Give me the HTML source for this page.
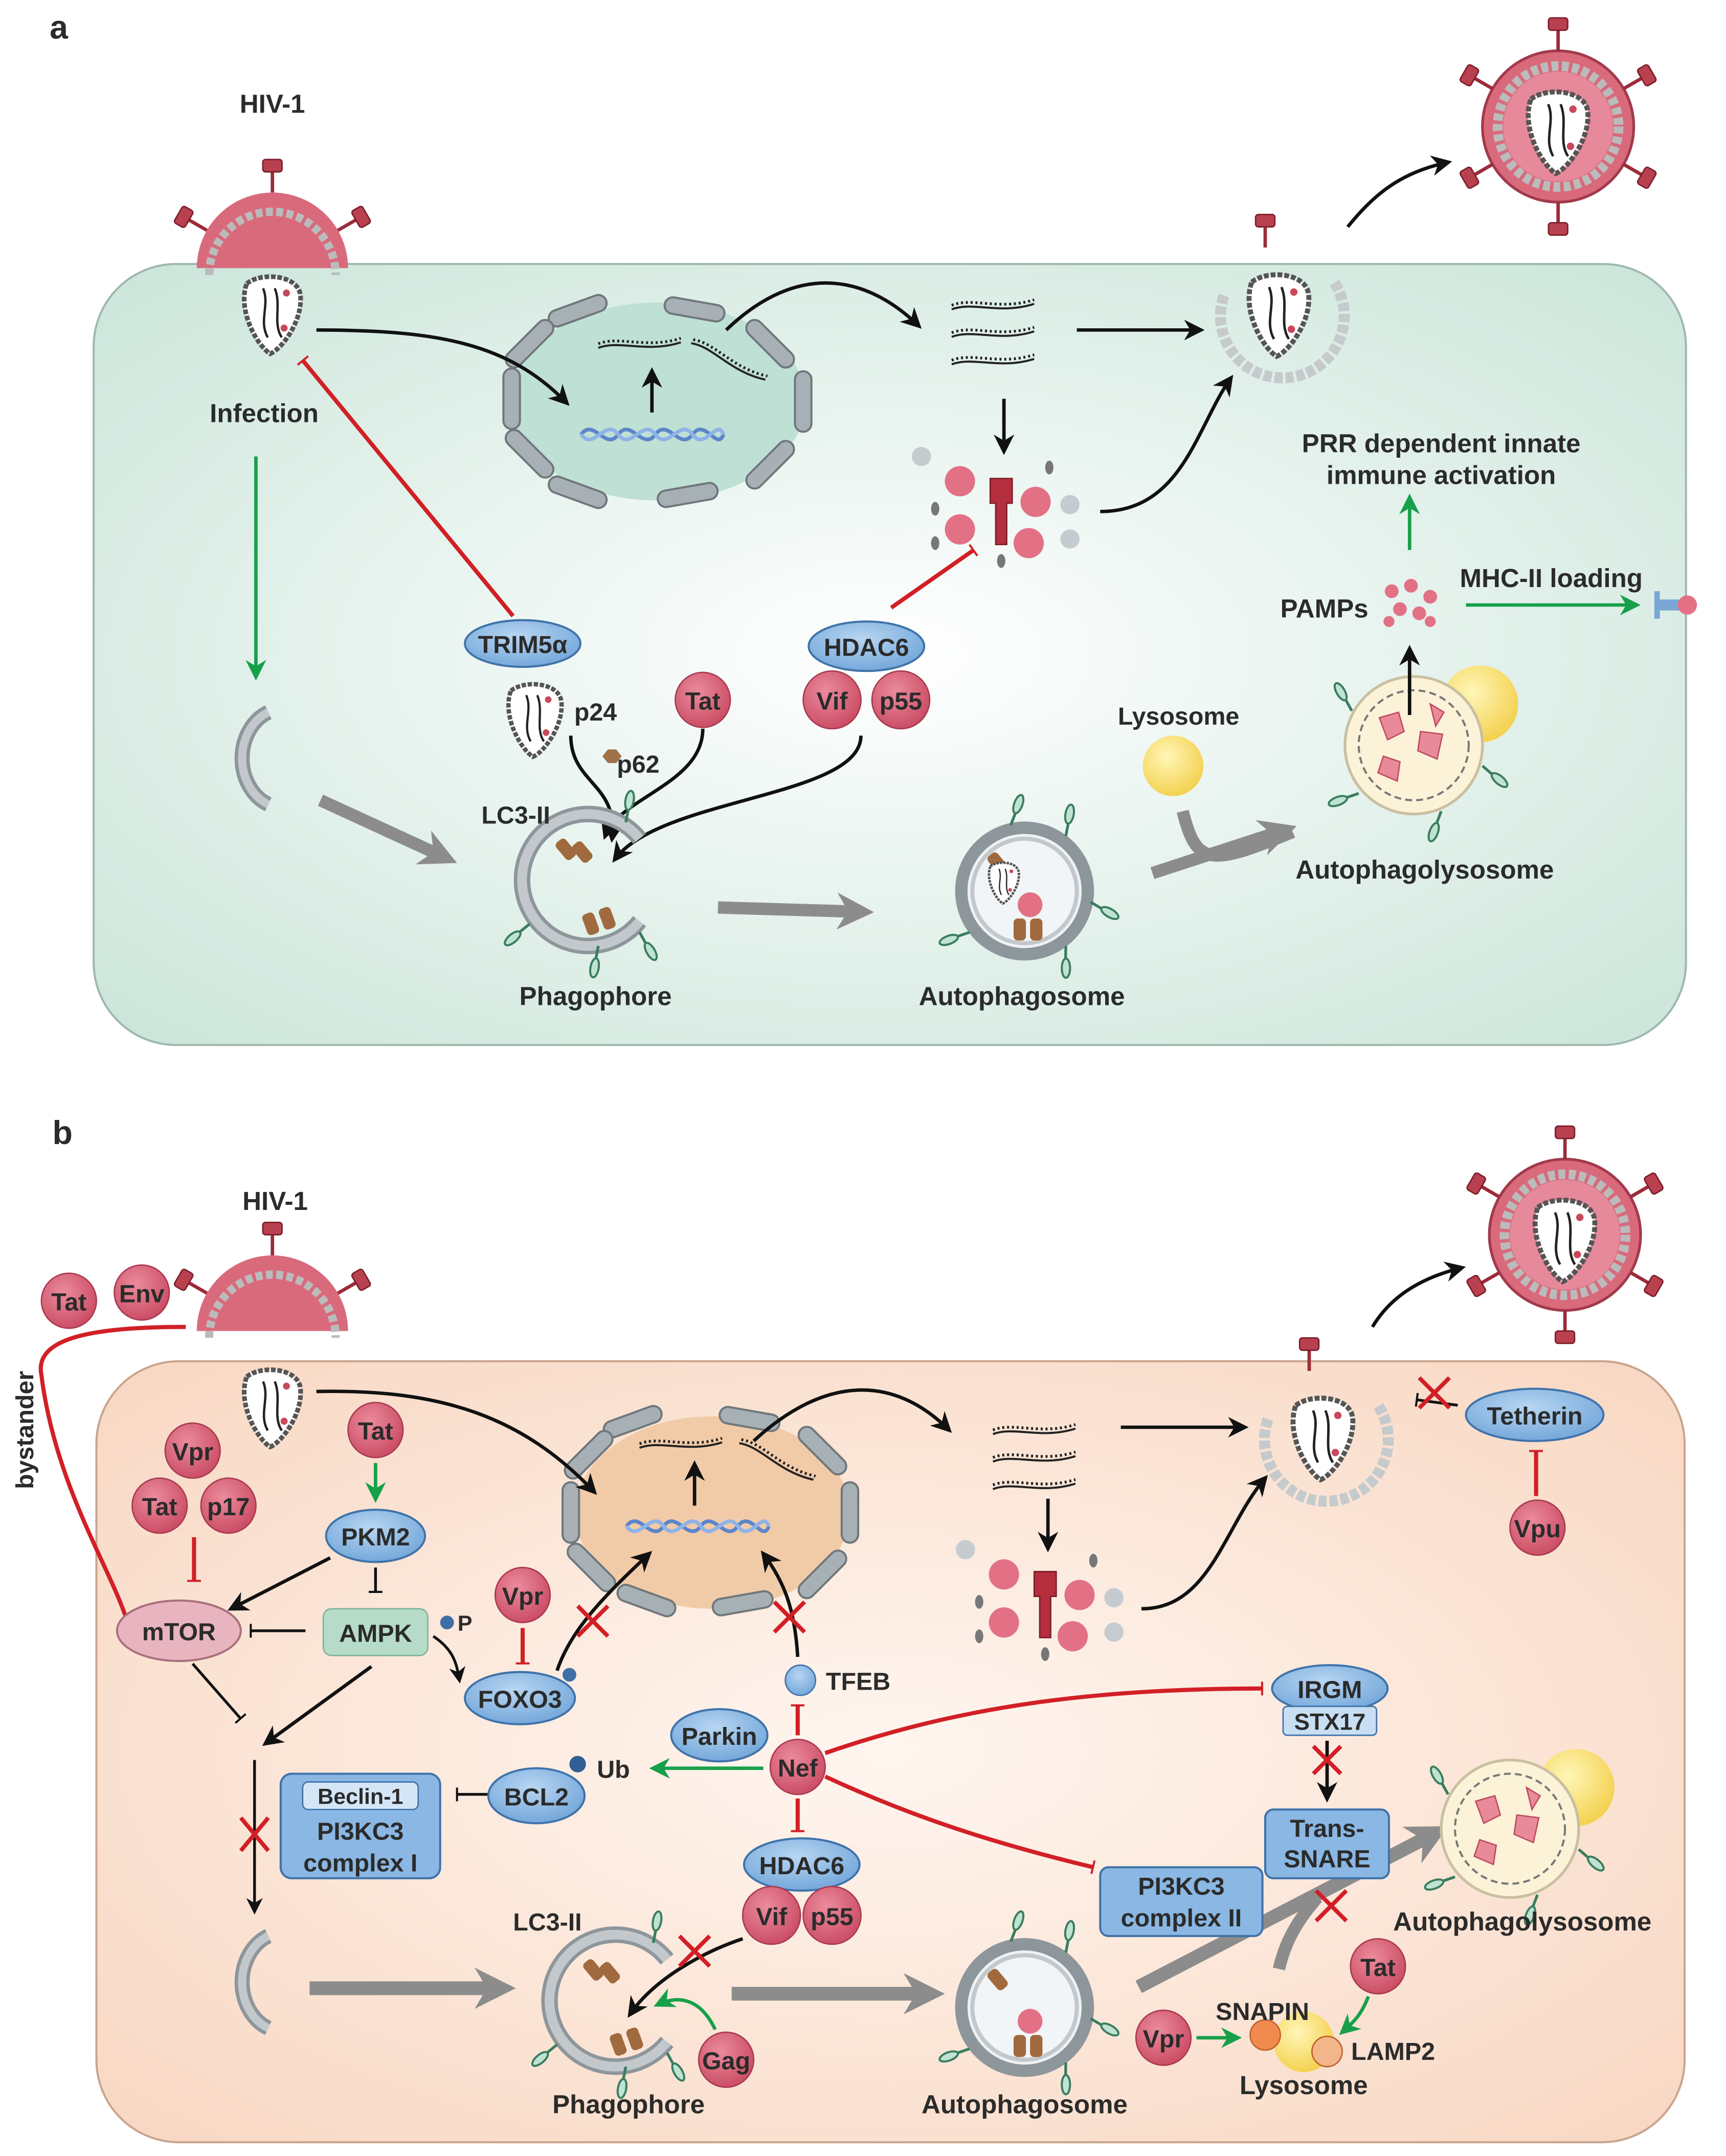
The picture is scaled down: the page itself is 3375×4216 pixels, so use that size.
<!DOCTYPE html>
<html><head><meta charset="utf-8"><style>
html,body{margin:0;padding:0;background:#fff}
svg{display:block}
text{font-family:"Liberation Sans",Arial,sans-serif;font-weight:bold;fill:#2b2b2b}
</style></head><body>
<svg width="3375" height="4216" viewBox="0 0 1255 1568" xmlns="http://www.w3.org/2000/svg">
<defs>
<radialGradient id="ga" cx="0.5" cy="0.5" r="0.7"><stop offset="0" stop-color="#ffffff"/><stop offset="1" stop-color="#cbe5da"/></radialGradient>
<radialGradient id="gb" cx="0.5" cy="0.5" r="0.7"><stop offset="0" stop-color="#fff6f0"/><stop offset="1" stop-color="#f8d7c2"/></radialGradient>
<radialGradient id="pk" cx="0.4" cy="0.35" r="0.7"><stop offset="0" stop-color="#eb8b9c"/><stop offset="1" stop-color="#c94a62"/></radialGradient>
<radialGradient id="bl" cx="0.45" cy="0.35" r="0.7"><stop offset="0" stop-color="#b8d6f2"/><stop offset="1" stop-color="#6fa4d8"/></radialGradient>
<radialGradient id="yl" cx="0.4" cy="0.35" r="0.7"><stop offset="0" stop-color="#fff6b8"/><stop offset="1" stop-color="#f3cf4a"/></radialGradient>
<marker id="ak" viewBox="0 0 10 10" refX="8" refY="5" markerWidth="6" markerHeight="6" orient="auto"><path d="M0,0L10,5L0,10L3,5z" fill="#111"/></marker>
<marker id="ag" viewBox="0 0 10 10" refX="8" refY="5" markerWidth="6" markerHeight="6" orient="auto"><path d="M0,0L10,5L0,10L3,5z" fill="#16a04a"/></marker>
<marker id="agr" viewBox="0 0 10 10" refX="5" refY="5" markerWidth="3" markerHeight="3" orient="auto"><path d="M0,0L10,5L0,10L3,5z" fill="#8c8c8c"/></marker>
<marker id="br" viewBox="0 0 4 20" refX="2" refY="10" markerWidth="4" markerHeight="10" orient="auto" markerUnits="userSpaceOnUse"><rect x="0" y="0" width="3" height="20" fill="#d21f26"/></marker>
<marker id="bk" viewBox="0 0 4 20" refX="2" refY="10" markerWidth="3" markerHeight="10" orient="auto" markerUnits="userSpaceOnUse"><rect x="0" y="0" width="3" height="20" fill="#111"/></marker>
<g id="capsid">
<path d="M-22,-22 C-10,-32 22,-30 24,-12 C26,10 8,34 -2,38 C-14,30 -30,0 -22,-22z" fill="#fff" stroke="#555" stroke-width="4" stroke-dasharray="4 1.5"/>
<path d="M-8,-18 C-2,-4 -12,10 -4,24" fill="none" stroke="#222" stroke-width="2"/>
<path d="M2,-18 C8,-4 0,12 8,24" fill="none" stroke="#222" stroke-width="2"/>
<circle cx="12" cy="-14" r="3" fill="#c9485c"/><circle cx="10" cy="16" r="3" fill="#c9485c"/>
</g>
<g id="spike"><line x1="0" y1="0" x2="0" y2="-16" stroke="#9c2b3a" stroke-width="2.5"/><rect x="-7" y="-24" width="14" height="9" rx="2" fill="#b8404f" stroke="#7a1e2a"/></g>
<g id="virion">
<circle r="55" fill="#d96a7c" stroke="#a23a4c" stroke-width="2"/>
<circle r="44" fill="none" stroke="#bbb" stroke-width="7" stroke-dasharray="5 2.5"/>
<circle r="40" fill="#e6899a"/>
<use href="#spike" transform="rotate(0) translate(0,-55)"/><use href="#spike" transform="rotate(60) translate(0,-55)"/><use href="#spike" transform="rotate(120) translate(0,-55)"/>
<use href="#spike" transform="rotate(180) translate(0,-55)"/><use href="#spike" transform="rotate(240) translate(0,-55)"/><use href="#spike" transform="rotate(300) translate(0,-55)"/>
<use href="#capsid" transform="scale(0.9)"/>
</g>
<g id="nucseg"><rect x="-22" y="-6" width="44" height="12" rx="6" fill="#a7b0b5" stroke="#6f777b" stroke-width="1.5"/></g>
<g id="dna"><path d="M-55,0 C-45,-14 -35,14 -25,0 C-15,-14 -5,14 5,0 C15,-14 25,14 35,0 C45,-14 55,14 60,0" fill="none" stroke="#5b86c9" stroke-width="3"/><path d="M-55,0 C-45,14 -35,-14 -25,0 C-15,14 -5,-14 5,0 C15,14 25,-14 35,0 C45,14 55,-14 60,0" fill="none" stroke="#8fb3e8" stroke-width="3"/></g>
<g id="rna"><path d="M-30,0 C-15,-6 5,4 30,-4" fill="none" stroke="#222" stroke-width="2" stroke-dasharray="1.5 2"/><path d="M-30,0 C-15,-6 5,4 30,-4" fill="none" stroke="#222" stroke-width="1.5" transform="translate(0,3)"/></g>
<g id="ribo">
<circle cx="-30" cy="-20" r="11" fill="#e37185"/><circle cx="25" cy="-5" r="11" fill="#e37185"/><circle cx="-30" cy="15" r="11" fill="#e37185"/><circle cx="20" cy="25" r="11" fill="#e37185"/>
<circle cx="-58" cy="-38" r="7" fill="#c6cbd0"/><circle cx="50" cy="-3" r="7" fill="#c6cbd0"/><circle cx="50" cy="22" r="7" fill="#c6cbd0"/>
<ellipse cx="-48" cy="0" rx="3" ry="5" fill="#777"/><ellipse cx="-48" cy="25" rx="3" ry="5" fill="#777"/><ellipse cx="35" cy="-30" rx="3" ry="5" fill="#777"/><ellipse cx="0" cy="38" rx="3" ry="5" fill="#777"/>
<path d="M-8,-22 h16 v18 h-4 v30 h-8 v-30 h-4z" fill="#b52e3e" stroke="#7c1c28"/>
</g>
<g id="lc3"><path d="M0,0 l6,-10" stroke="#3a7d5f" stroke-width="2"/><ellipse cx="8" cy="-14" rx="3" ry="7" fill="#bfe3d2" stroke="#3a7d5f" stroke-width="1.5" transform="rotate(30 8 -14)"/></g>
<g id="phago">
<path d="M40,-30 A48,48 0 1,0 40,30" fill="none" stroke="#8d969b" stroke-width="12"/>
<path d="M40,-30 A48,48 0 1,0 40,30" fill="none" stroke="#c2c8cc" stroke-width="7"/>
<rect x="-18" y="-30" width="9" height="16" rx="3" fill="#a06a3e" transform="rotate(-40 -14 -22)"/><rect x="-6" y="-28" width="9" height="16" rx="3" fill="#a06a3e" transform="rotate(-40 -2 -20)"/>
<rect x="0" y="24" width="9" height="16" rx="3" fill="#a06a3e" transform="rotate(-20 4 32)"/><rect x="12" y="20" width="9" height="16" rx="3" fill="#a06a3e" transform="rotate(-20 16 28)"/>
<use href="#lc3" transform="translate(-40,32) rotate(200)"/><use href="#lc3" transform="translate(10,48) rotate(160)"/><use href="#lc3" transform="translate(30,-42) rotate(-20)"/><use href="#lc3" transform="translate(40,38) rotate(120)"/>
</g>
<g id="autoph">
<circle r="46" fill="#eef2f4" stroke="#8d969b" stroke-width="9"/><circle r="38" fill="#f2f5f7" stroke="#c2c8cc" stroke-width="3"/>
<rect x="-24" y="-28" width="9" height="16" rx="3" fill="#a06a3e" transform="rotate(-40 -20 -20)"/><rect x="-8" y="20" width="9" height="16" rx="3" fill="#a06a3e"/><rect x="4" y="20" width="9" height="16" rx="3" fill="#a06a3e"/>
<circle cx="4" cy="10" r="9" fill="#e37185"/>
<use href="#lc3" transform="translate(-40,30) rotate(220)"/><use href="#lc3" transform="translate(30,40) rotate(150)"/><use href="#lc3" transform="translate(30,-40) rotate(-20)"/><use href="#lc3" transform="translate(48,8) rotate(90)"/><use href="#lc3" transform="translate(-10,-48) rotate(-10)"/>
</g>
<g id="apl">
<circle cx="48" cy="-30" r="28" fill="url(#yl)"/>
<circle r="50" fill="#fbf2d8" stroke="#c9c0a2" stroke-width="2"/>
<circle r="40" fill="none" stroke="#777" stroke-width="1.5" stroke-dasharray="5 3"/>
<path d="M-25,-20 l14,-4 l4,14 l-12,6z M5,-10 l16,2 l-4,18 l-14,-6z M-22,8 l12,4 l-2,14 l-14,-6z M12,-30 l10,6 l-6,10 z" fill="#e88a9a" stroke="#c04b60"/>
<use href="#lc3" transform="translate(-40,35) rotate(220)"/><use href="#lc3" transform="translate(20,48) rotate(170)"/><use href="#lc3" transform="translate(50,15) rotate(100)"/><use href="#lc3" transform="translate(-45,-25) rotate(-60)"/>
</g>
<g id="bud">
<path d="M-40,-10 A45,45 0 1,0 40,-20" fill="none" stroke="#c5cacc" stroke-width="8" stroke-dasharray="6 2"/>
<use href="#capsid" transform="scale(0.9)"/>
<use href="#spike" transform="translate(-10,-45)"/>
</g>
</defs>

<!-- PANEL A -->
<text x="36" y="28" font-size="24">a</text>
<rect x="68" y="192" width="1158" height="568" rx="60" fill="url(#ga)" stroke="#9fb8ac" stroke-width="1.5"/>
<text x="198" y="82" font-size="19" text-anchor="middle">HIV-1</text>
<g transform="translate(198,195)">
<path d="M-55,0 A55,55 0 0,1 55,0 Z" fill="#d96a7c"/>
<path d="M-46,5 A46,46 0 0,1 46,5" fill="none" stroke="#bbb" stroke-width="6" stroke-dasharray="5 2.5"/>
<use href="#spike" transform="rotate(-60) translate(0,-55)"/><use href="#spike" transform="rotate(0) translate(0,-55)"/><use href="#spike" transform="rotate(60) translate(0,-55)"/>
</g>
<use href="#capsid" transform="translate(198,225) scale(0.85)"/>
<text x="192" y="307" font-size="19" text-anchor="middle">Infection</text>
<ellipse cx="478" cy="292" rx="108" ry="72" fill="#bfe0d4"/>
<use href="#nucseg" transform="translate(420,226) rotate(-20)"/><use href="#nucseg" transform="translate(505,225) rotate(10)"/><use href="#nucseg" transform="translate(560,250) rotate(45)"/><use href="#nucseg" transform="translate(584,292) rotate(90)"/><use href="#nucseg" transform="translate(560,338) rotate(-45)"/><use href="#nucseg" transform="translate(500,360) rotate(-10)"/><use href="#nucseg" transform="translate(420,358) rotate(20)"/><use href="#nucseg" transform="translate(385,330) rotate(45)"/><use href="#nucseg" transform="translate(372,290) rotate(90)"/><use href="#nucseg" transform="translate(385,250) rotate(-45)"/>
<use href="#dna" transform="translate(472,316) scale(0.9)"/>
<use href="#rna" transform="translate(465,250)"/><use href="#rna" transform="translate(530,262) rotate(30)"/>
<line x1="474" y1="300" x2="474" y2="270" stroke="#111" stroke-width="2.5" marker-end="url(#ak)"/>
<path d="M230,240 C320,240 370,250 412,293" fill="none" stroke="#111" stroke-width="2.5" marker-end="url(#ak)"/>
<path d="M528,240 C580,190 630,200 668,237" fill="none" stroke="#111" stroke-width="2.5" marker-end="url(#ak)"/>
<use href="#rna" transform="translate(722,222)"/><use href="#rna" transform="translate(722,242)"/><use href="#rna" transform="translate(722,262)"/>
<line x1="783" y1="240" x2="873" y2="240" stroke="#111" stroke-width="2.5" marker-end="url(#ak)"/>
<line x1="730" y1="290" x2="730" y2="328" stroke="#111" stroke-width="2.5" marker-end="url(#ak)"/>
<use href="#ribo" transform="translate(728,370)"/>
<path d="M800,372 C860,372 870,310 895,275" fill="none" stroke="#111" stroke-width="2.5" marker-end="url(#ak)"/>
<use href="#bud" transform="translate(930,225)"/>
<path d="M980,165 C1000,140 1020,125 1053,118" fill="none" stroke="#111" stroke-width="2.5" marker-end="url(#ak)"/>
<use href="#virion" transform="translate(1133,92)"/>
<text x="1048" y="329" font-size="19" text-anchor="middle">PRR dependent innate</text>
<text x="1048" y="352" font-size="19" text-anchor="middle">immune activation</text>
<line x1="1025" y1="400" x2="1025" y2="362" stroke="#16a04a" stroke-width="2.5" marker-end="url(#ag)"/>
<g fill="#e37185"><circle cx="1012" cy="430" r="5"/><circle cx="1026" cy="426" r="5"/><circle cx="1040" cy="434" r="5"/><circle cx="1018" cy="443" r="5"/><circle cx="1032" cy="446" r="5"/><circle cx="1010" cy="452" r="4"/><circle cx="1040" cy="452" r="4"/></g>
<text x="963" y="449" font-size="19" text-anchor="middle">PAMPs</text>
<text x="1128" y="427" font-size="19" text-anchor="middle">MHC-II loading</text>
<line x1="1066" y1="440" x2="1190" y2="440" stroke="#16a04a" stroke-width="2.5" marker-end="url(#ag)"/>
<g transform="translate(1215,440)"><rect x="-10" y="-4" width="24" height="8" fill="#7aa6d6"/><circle cx="12" cy="0" r="7" fill="#e37185"/><rect x="-12" y="-10" width="4" height="20" fill="#7aa6d6"/></g>
<ellipse cx="380" cy="468" rx="42" ry="17" fill="url(#bl)" stroke="#3f73aa" stroke-width="1.5"/><text x="380" y="475" font-size="18" text-anchor="middle">TRIM5α</text>
<line x1="373" y1="448" x2="220" y2="262" stroke="#d21f26" stroke-width="3" marker-end="url(#br)"/>
<use href="#capsid" transform="translate(389,520) scale(0.8)"/>
<text x="433" y="524" font-size="18" text-anchor="middle">p24</text>
<path d="M438,550 l4,-5 h6 l4,5 l-4,5 h-6z" fill="#a0724c"/><text x="464" y="562" font-size="18" text-anchor="middle">p62</text>
<circle cx="511" cy="509" r="20" fill="url(#pk)" stroke="#a83a50"/><text x="511" y="516" font-size="18" text-anchor="middle">Tat</text>
<ellipse cx="630" cy="470" rx="42" ry="18" fill="url(#bl)" stroke="#3f73aa" stroke-width="1.5"/><text x="630" y="477" font-size="18" text-anchor="middle">HDAC6</text>
<circle cx="605" cy="509" r="21" fill="url(#pk)" stroke="#a83a50"/><text x="605" y="516" font-size="18" text-anchor="middle">Vif</text>
<circle cx="655" cy="509" r="21" fill="url(#pk)" stroke="#a83a50"/><text x="655" y="516" font-size="18" text-anchor="middle">p55</text>
<line x1="648" y1="442" x2="708" y2="400" stroke="#d21f26" stroke-width="3" marker-end="url(#br)"/>
<path d="M415,535 C415,570 450,570 445,610" fill="none" stroke="#111" stroke-width="2.5" marker-end="url(#ak)"/>
<path d="M511,530 C511,570 450,580 440,608" fill="none" stroke="#111" stroke-width="2.5" marker-end="url(#ak)"/>
<path d="M626,535 C626,580 480,580 447,625" fill="none" stroke="#111" stroke-width="2.5" marker-end="url(#ak)"/>
<line x1="186" y1="332" x2="186" y2="492" stroke="#16a04a" stroke-width="2.5" marker-end="url(#ag)"/>
<path d="M195,518 A30,36 0 0,0 195,585" fill="none" stroke="#8d969b" stroke-width="11"/>
<path d="M195,518 A30,36 0 0,0 195,585" fill="none" stroke="#c2c8cc" stroke-width="6"/>
<line x1="233" y1="582" x2="320" y2="622" stroke="#8c8c8c" stroke-width="9" marker-end="url(#agr)"/>
<use href="#phago" transform="translate(425,640)"/>
<text x="375" y="599" font-size="18" text-anchor="middle">LC3-II</text>
<text x="433" y="731" font-size="19" text-anchor="middle">Phagophore</text>
<line x1="522" y1="660" x2="622" y2="663" stroke="#8c8c8c" stroke-width="9" marker-end="url(#agr)"/>
<use href="#autoph" transform="translate(745,648)"/>
<g transform="translate(730,640) scale(0.45)"><use href="#capsid"/></g>
<text x="743" y="731" font-size="19" text-anchor="middle">Autophagosome</text>
<circle cx="853" cy="557" r="22" fill="url(#yl)"/>
<text x="857" y="527" font-size="18" text-anchor="middle">Lysosome</text>
<path d="M860,590 C870,630 880,630 940,605" fill="none" stroke="#8c8c8c" stroke-width="9"/>
<line x1="838" y1="635" x2="930" y2="605" stroke="#8c8c8c" stroke-width="9" marker-end="url(#agr)"/>
<use href="#apl" transform="translate(1028,542)"/>
<line x1="1025" y1="520" x2="1025" y2="472" stroke="#111" stroke-width="2.5" marker-end="url(#ak)"/>
<text x="1036" y="639" font-size="19" text-anchor="middle">Autophagolysosome</text>

<!-- PANEL B -->
<text x="38" y="832" font-size="24">b</text>
<rect x="70" y="990" width="1155" height="568" rx="60" fill="url(#gb)" stroke="#c9a48c" stroke-width="1.5"/>
<text x="200" y="880" font-size="19" text-anchor="middle">HIV-1</text>
<g transform="translate(198,968)">
<path d="M-55,0 A55,55 0 0,1 55,0 Z" fill="#d96a7c"/>
<path d="M-46,5 A46,46 0 0,1 46,5" fill="none" stroke="#bbb" stroke-width="6" stroke-dasharray="5 2.5"/>
<use href="#spike" transform="rotate(-60) translate(0,-55)"/><use href="#spike" transform="rotate(0) translate(0,-55)"/><use href="#spike" transform="rotate(60) translate(0,-55)"/>
</g>
<use href="#capsid" transform="translate(198,1020) scale(0.85)"/>
<circle cx="50" cy="946" r="20" fill="url(#pk)" stroke="#a83a50"/><text x="50" y="953" font-size="18" text-anchor="middle">Tat</text>
<circle cx="103" cy="940" r="20" fill="url(#pk)" stroke="#a83a50"/><text x="103" y="947" font-size="18" text-anchor="middle">Env</text>
<text x="24" y="1040" font-size="18" text-anchor="middle" transform="rotate(-90 24 1040)">bystander</text>
<path d="M135,965 C60,965 25,975 30,1000 C40,1080 80,1140 92,1178" fill="none" stroke="#d21f26" stroke-width="3" marker-end="url(#br)"/>
<circle cx="140" cy="1055" r="20" fill="url(#pk)" stroke="#a83a50"/><text x="140" y="1062" font-size="18" text-anchor="middle">Vpr</text>
<circle cx="116" cy="1095" r="20" fill="url(#pk)" stroke="#a83a50"/><text x="116" y="1102" font-size="18" text-anchor="middle">Tat</text>
<circle cx="166" cy="1095" r="20" fill="url(#pk)" stroke="#a83a50"/><text x="166" y="1102" font-size="18" text-anchor="middle">p17</text>
<line x1="141" y1="1118" x2="141" y2="1150" stroke="#d21f26" stroke-width="3" marker-end="url(#br)"/>
<ellipse cx="130" cy="1186" rx="45" ry="22" fill="#e8b4bf" stroke="#a8707c" stroke-width="1.5"/><text x="130" y="1193" font-size="18" text-anchor="middle">mTOR</text>
<circle cx="273" cy="1040" r="20" fill="url(#pk)" stroke="#a83a50"/><text x="273" y="1047" font-size="18" text-anchor="middle">Tat</text>
<line x1="273" y1="1064" x2="273" y2="1090" stroke="#16a04a" stroke-width="2.5" marker-end="url(#ag)"/>
<ellipse cx="273" cy="1117" rx="36" ry="19" fill="url(#bl)" stroke="#3f73aa" stroke-width="1.5"/><text x="273" y="1124" font-size="18" text-anchor="middle">PKM2</text>
<line x1="240" y1="1133" x2="168" y2="1170" stroke="#111" stroke-width="2.5" marker-end="url(#ak)"/>
<line x1="273" y1="1140" x2="273" y2="1158" stroke="#111" stroke-width="2" marker-end="url(#bk)"/>
<rect x="235" y="1170" width="76" height="34" rx="6" fill="#b6dcc9" stroke="#7fb39a"/><text x="273" y="1194" font-size="18" text-anchor="middle">AMPK</text>
<line x1="222" y1="1186" x2="182" y2="1186" stroke="#111" stroke-width="2" marker-end="url(#bk)"/>
<circle cx="325" cy="1180" r="5" fill="#3e6fa5"/><text x="338" y="1186" font-size="16" text-anchor="middle">P</text>
<path d="M315,1190 C330,1200 332,1210 334,1222" fill="none" stroke="#111" stroke-width="2" marker-end="url(#ak)"/>
<circle cx="380" cy="1160" r="20" fill="url(#pk)" stroke="#a83a50"/><text x="380" y="1167" font-size="18" text-anchor="middle">Vpr</text>
<line x1="380" y1="1184" x2="380" y2="1210" stroke="#d21f26" stroke-width="3" marker-end="url(#br)"/>
<ellipse cx="378" cy="1235" rx="40" ry="19" fill="url(#bl)" stroke="#3f73aa" stroke-width="1.5"/><text x="378" y="1242" font-size="18" text-anchor="middle">FOXO3</text>
<circle cx="414" cy="1218" r="5" fill="#3e6fa5"/>
<line x1="140" y1="1210" x2="175" y2="1250" stroke="#111" stroke-width="2" marker-end="url(#bk)"/>
<line x1="270" y1="1212" x2="193" y2="1268" stroke="#111" stroke-width="2.5" marker-end="url(#ak)"/>
<line x1="185" y1="1280" x2="185" y2="1390" stroke="#111" stroke-width="2" marker-end="url(#ak)"/>
<path d="M175,1322 l20,24 M195,1322 l-20,24" stroke="#d21f26" stroke-width="3"/>
<rect x="204" y="1290" width="116" height="76" rx="8" fill="#8ab7e3" stroke="#3f73aa" stroke-width="1.5"/>
<rect x="220" y="1296" width="84" height="20" rx="4" fill="#d4e6f6" stroke="#3f73aa"/>
<text x="262" y="1312" font-size="16" text-anchor="middle">Beclin-1</text>
<text x="262" y="1338" font-size="18" text-anchor="middle">PI3KC3</text>
<text x="262" y="1361" font-size="18" text-anchor="middle">complex I</text>
<line x1="355" y1="1305" x2="332" y2="1305" stroke="#111" stroke-width="2" marker-end="url(#bk)"/>
<ellipse cx="390" cy="1306" rx="35" ry="20" fill="url(#bl)" stroke="#3f73aa" stroke-width="1.5"/><text x="390" y="1313" font-size="18" text-anchor="middle">BCL2</text>
<circle cx="420" cy="1283" r="6" fill="#2f5f95"/><text x="446" y="1293" font-size="18" text-anchor="middle">Ub</text>
<line x1="555" y1="1286" x2="475" y2="1286" stroke="#16a04a" stroke-width="2.5" marker-end="url(#ag)"/>
<ellipse cx="518" cy="1100" rx="100" ry="70" fill="#f1cba8"/>
<use href="#nucseg" transform="translate(460,1034) rotate(-20)"/><use href="#nucseg" transform="translate(545,1032) rotate(10)"/><use href="#nucseg" transform="translate(598,1055) rotate(45)"/><use href="#nucseg" transform="translate(618,1100) rotate(90)"/><use href="#nucseg" transform="translate(598,1145) rotate(-45)"/><use href="#nucseg" transform="translate(540,1166) rotate(-10)"/><use href="#nucseg" transform="translate(470,1164) rotate(20)"/><use href="#nucseg" transform="translate(430,1140) rotate(45)"/><use href="#nucseg" transform="translate(415,1100) rotate(90)"/><use href="#nucseg" transform="translate(428,1058) rotate(-45)"/>
<use href="#dna" transform="translate(505,1110) scale(0.9)"/>
<use href="#rna" transform="translate(495,1050)"/><use href="#rna" transform="translate(565,1062) rotate(30)"/>
<line x1="505" y1="1095" x2="505" y2="1065" stroke="#111" stroke-width="2.5" marker-end="url(#ak)"/>
<path d="M230,1012 C320,1010 380,1030 432,1085" fill="none" stroke="#111" stroke-width="2.5" marker-end="url(#ak)"/>
<path d="M405,1215 C415,1185 440,1160 472,1130" fill="none" stroke="#111" stroke-width="2.5" marker-end="url(#ak)"/>
<path d="M420,1168 l22,22 M442,1168 l-22,22" stroke="#d21f26" stroke-width="3"/>
<path d="M580,1205 C578,1170 570,1150 555,1130" fill="none" stroke="#111" stroke-width="2.5" marker-end="url(#ak)"/>
<path d="M563,1165 l22,22 M585,1165 l-22,22" stroke="#d21f26" stroke-width="3"/>
<circle cx="582" cy="1222" r="11" fill="url(#bl)" stroke="#3f73aa"/><text x="624" y="1229" font-size="18" text-anchor="middle">TFEB</text>
<line x1="580" y1="1262" x2="580" y2="1240" stroke="#d21f26" stroke-width="3" marker-end="url(#br)"/>
<ellipse cx="523" cy="1262" rx="35" ry="19" fill="url(#bl)" stroke="#3f73aa" stroke-width="1.5"/><text x="523" y="1269" font-size="18" text-anchor="middle">Parkin</text>
<circle cx="580" cy="1285" r="20" fill="url(#pk)" stroke="#a83a50"/><text x="580" y="1292" font-size="18" text-anchor="middle">Nef</text>
<line x1="580" y1="1308" x2="580" y2="1332" stroke="#d21f26" stroke-width="3" marker-end="url(#br)"/>
<ellipse cx="583" cy="1356" rx="42" ry="19" fill="url(#bl)" stroke="#3f73aa" stroke-width="1.5"/><text x="583" y="1363" font-size="18" text-anchor="middle">HDAC6</text>
<circle cx="561" cy="1393" r="21" fill="url(#pk)" stroke="#a83a50"/><text x="561" y="1400" font-size="18" text-anchor="middle">Vif</text>
<circle cx="605" cy="1393" r="21" fill="url(#pk)" stroke="#a83a50"/><text x="605" y="1400" font-size="18" text-anchor="middle">p55</text>
<path d="M600,1275 C700,1240 800,1228 918,1228" fill="none" stroke="#d21f26" stroke-width="3" marker-end="url(#br)"/>
<path d="M600,1292 C660,1320 720,1340 795,1358" fill="none" stroke="#d21f26" stroke-width="3" marker-end="url(#br)"/>
<ellipse cx="967" cy="1228" rx="42" ry="17" fill="url(#bl)" stroke="#3f73aa" stroke-width="1.5"/><text x="967" y="1235" font-size="18" text-anchor="middle">IRGM</text>
<rect x="933" y="1241" width="68" height="21" rx="3" fill="#c8def2" stroke="#3f73aa"/><text x="967" y="1258" font-size="17" text-anchor="middle">STX17</text>
<line x1="965" y1="1266" x2="965" y2="1308" stroke="#111" stroke-width="2.5" marker-end="url(#ak)"/>
<path d="M955,1270 l20,20 M975,1270 l-20,20" stroke="#d21f26" stroke-width="3"/>
<line x1="828" y1="1445" x2="1040" y2="1335" stroke="#8c8c8c" stroke-width="10" marker-end="url(#agr)"/>
<rect x="920" y="1316" width="90" height="50" rx="6" fill="#8ab7e3" stroke="#3f73aa" stroke-width="1.5"/>
<text x="965" y="1336" font-size="18" text-anchor="middle">Trans-</text><text x="965" y="1358" font-size="18" text-anchor="middle">SNARE</text>
<rect x="800" y="1358" width="118" height="50" rx="6" fill="#8ab7e3" stroke="#3f73aa" stroke-width="1.5"/>
<text x="859" y="1378" font-size="18" text-anchor="middle">PI3KC3</text><text x="859" y="1401" font-size="18" text-anchor="middle">complex II</text>
<path d="M930,1432 C935,1410 945,1395 958,1380" fill="none" stroke="#8c8c8c" stroke-width="9"/>
<path d="M957,1375 l22,22 M979,1375 l-22,22" stroke="#d21f26" stroke-width="3"/>
<use href="#apl" transform="translate(1098,1330)"/>
<text x="1107" y="1404" font-size="19" text-anchor="middle">Autophagolysosome</text>
<circle cx="948" cy="1485" r="22" fill="url(#yl)"/>
<circle cx="920" cy="1480" r="11" fill="#f08a4e" stroke="#c0602a"/>
<circle cx="965" cy="1492" r="11" fill="#f3b58a" stroke="#c0602a"/>
<text x="918" y="1469" font-size="18" text-anchor="middle">SNAPIN</text>
<text x="1013" y="1498" font-size="18" text-anchor="middle">LAMP2</text>
<text x="948" y="1523" font-size="19" text-anchor="middle">Lysosome</text>
<circle cx="846" cy="1482" r="20" fill="url(#pk)" stroke="#a83a50"/><text x="846" y="1489" font-size="18" text-anchor="middle">Vpr</text>
<line x1="870" y1="1482" x2="900" y2="1482" stroke="#16a04a" stroke-width="2.5" marker-end="url(#ag)"/>
<circle cx="1002" cy="1430" r="20" fill="url(#pk)" stroke="#a83a50"/><text x="1002" y="1437" font-size="18" text-anchor="middle">Tat</text>
<path d="M995,1452 C990,1465 985,1470 976,1478" fill="none" stroke="#16a04a" stroke-width="2.5" marker-end="url(#ag)"/>
<path d="M195,1408 A30,36 0 0,0 195,1475" fill="none" stroke="#8d969b" stroke-width="11"/>
<path d="M195,1408 A30,36 0 0,0 195,1475" fill="none" stroke="#c2c8cc" stroke-width="6"/>
<line x1="225" y1="1446" x2="360" y2="1446" stroke="#8c8c8c" stroke-width="10" marker-end="url(#agr)"/>
<use href="#phago" transform="translate(445,1455)"/>
<text x="398" y="1404" font-size="18" text-anchor="middle">LC3-II</text>
<text x="457" y="1537" font-size="19" text-anchor="middle">Phagophore</text>
<path d="M540,1410 C510,1420 475,1440 458,1465" fill="none" stroke="#111" stroke-width="2.5" marker-end="url(#ak)"/>
<path d="M494,1408 l22,22 M516,1408 l-22,22" stroke="#d21f26" stroke-width="3"/>
<circle cx="528" cy="1498" r="20" fill="url(#pk)" stroke="#a83a50"/><text x="528" y="1505" font-size="18" text-anchor="middle">Gag</text>
<path d="M520,1476 C510,1455 495,1450 478,1458" fill="none" stroke="#16a04a" stroke-width="2.5" marker-end="url(#ag)"/>
<line x1="532" y1="1450" x2="672" y2="1450" stroke="#8c8c8c" stroke-width="10" marker-end="url(#agr)"/>
<use href="#autoph" transform="translate(745,1460)"/>
<text x="745" y="1537" font-size="19" text-anchor="middle">Autophagosome</text>
<use href="#rna" transform="translate(752,1040)"/><use href="#rna" transform="translate(752,1060)"/><use href="#rna" transform="translate(752,1080)"/>
<path d="M548,1048 C600,1000 650,1000 690,1040" fill="none" stroke="#111" stroke-width="2.5" marker-end="url(#ak)"/>
<line x1="815" y1="1038" x2="905" y2="1038" stroke="#111" stroke-width="2.5" marker-end="url(#ak)"/>
<line x1="762" y1="1090" x2="762" y2="1126" stroke="#111" stroke-width="2.5" marker-end="url(#ak)"/>
<use href="#ribo" transform="translate(760,1165)"/>
<path d="M830,1170 C880,1170 890,1110 920,1075" fill="none" stroke="#111" stroke-width="2.5" marker-end="url(#ak)"/>
<use href="#bud" transform="translate(962,1042)"/>
<path d="M998,965 C1010,945 1030,930 1063,922" fill="none" stroke="#111" stroke-width="2.5" marker-end="url(#ak)"/>
<use href="#virion" transform="translate(1138,898)"/>
<line x1="1060" y1="1022" x2="1030" y2="1018" stroke="#111" stroke-width="2" marker-end="url(#bk)"/>
<path d="M1032,1002 l22,22 M1054,1002 l-22,22" stroke="#d21f26" stroke-width="3"/>
<ellipse cx="1116" cy="1029" rx="50" ry="19" fill="url(#bl)" stroke="#3f73aa" stroke-width="1.5"/><text x="1116" y="1036" font-size="18" text-anchor="middle">Tetherin</text>
<line x1="1117" y1="1088" x2="1117" y2="1055" stroke="#d21f26" stroke-width="3" marker-end="url(#br)"/>
<circle cx="1118" cy="1111" r="20" fill="url(#pk)" stroke="#a83a50"/><text x="1118" y="1118" font-size="18" text-anchor="middle">Vpu</text>
</svg>
</body></html>
